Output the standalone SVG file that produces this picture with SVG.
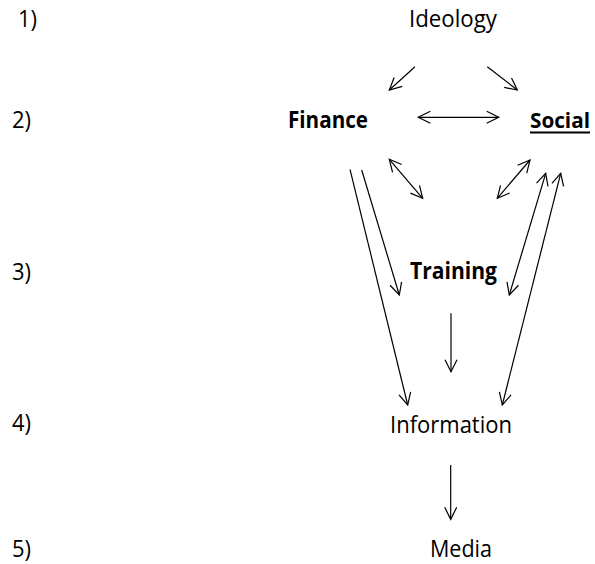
<svg xmlns="http://www.w3.org/2000/svg" width="595" height="564" viewBox="0 0 595 564">
<style>
text{font-family:"Open Sans","Liberation Sans",sans-serif;font-size:24px;fill:#000}
.b{font-weight:bold}
.c line{stroke:#000;stroke-width:1.2;fill:none}
</style>
<defs>
<marker id="ah" viewBox="-14 -8 16 16" refX="0" refY="0" markerWidth="16" markerHeight="16" markerUnits="userSpaceOnUse" orient="auto-start-reverse">
<path d="M-12,-6 L0,0 L-12,6" fill="none" stroke="#000" stroke-width="1.2"/>
</marker>
</defs>
<rect width="595" height="564" fill="#fff"/>
<g id="levels">
<text x="18" y="27" textLength="19" lengthAdjust="spacingAndGlyphs">1)</text>
<text x="12" y="128" textLength="19" lengthAdjust="spacingAndGlyphs">2)</text>
<text x="12" y="280" textLength="19" lengthAdjust="spacingAndGlyphs">3)</text>
<text x="12" y="431" textLength="19" lengthAdjust="spacingAndGlyphs">4)</text>
<text x="12" y="557" textLength="19" lengthAdjust="spacingAndGlyphs">5)</text>
</g>
<g id="ideology"><text x="409" y="27" textLength="88" lengthAdjust="spacingAndGlyphs">Ideology</text></g>
<g id="finance"><text class="b" x="288" y="128" textLength="80" lengthAdjust="spacingAndGlyphs">Finance</text></g>
<g id="social"><text class="b" x="530" y="127.5" style="font-size:22px" textLength="60" lengthAdjust="spacingAndGlyphs">Social</text><line x1="530" y1="132.5" x2="590" y2="132.5" stroke="#000" stroke-width="2"/></g>
<g id="training"><text class="b" x="410" y="278.5" textLength="87" lengthAdjust="spacingAndGlyphs">Training</text></g>
<g id="information"><text x="390" y="433" textLength="122" lengthAdjust="spacingAndGlyphs">Information</text></g>
<g id="media"><text x="430" y="557" textLength="62" lengthAdjust="spacingAndGlyphs">Media</text></g>
<g class="c" id="connectors">
<line x1="415" y1="66.7" x2="389.3" y2="90" marker-end="url(#ah)"/>
<line x1="487.3" y1="66.7" x2="517.3" y2="90" marker-end="url(#ah)"/>
<line x1="418.3" y1="117.3" x2="498.7" y2="117.3" marker-start="url(#ah)" marker-end="url(#ah)"/>
<line x1="389.3" y1="159.3" x2="422.7" y2="198.3" marker-start="url(#ah)" marker-end="url(#ah)"/>
<line x1="530" y1="160" x2="497.3" y2="198.3" marker-start="url(#ah)" marker-end="url(#ah)"/>
<line x1="350" y1="169.3" x2="407.7" y2="405" marker-end="url(#ah)"/>
<line x1="361.7" y1="170" x2="399.3" y2="295" marker-end="url(#ah)"/>
<line x1="545.7" y1="173.3" x2="509.3" y2="295" marker-start="url(#ah)" marker-end="url(#ah)"/>
<line x1="560.7" y1="173.3" x2="502.3" y2="405" marker-start="url(#ah)" marker-end="url(#ah)"/>
<line x1="451" y1="313.3" x2="451" y2="371.7" marker-end="url(#ah)"/>
<line x1="450.7" y1="465" x2="450.7" y2="519.3" marker-end="url(#ah)"/>
</g>
</svg>
